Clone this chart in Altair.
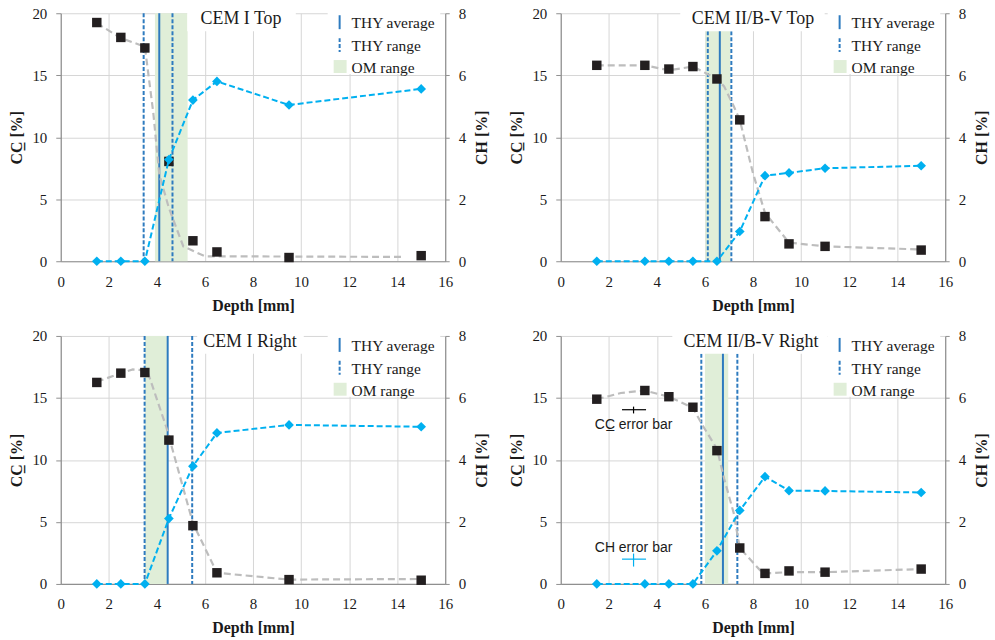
import altair as alt
import pandas as pd

# ---------------- data ----------------
titles = ["CEM I Top", "CEM II/B-V Top", "CEM I Right", "CEM II/B-V Right"]

depth = [
    [1.5, 2.5, 3.5, 4.5, 5.5, 6.5, 9.5, 15],
    [1.5, 3.5, 4.5, 5.5, 6.5, 7.45, 8.5, 9.5, 11, 15],
    [1.5, 2.5, 3.5, 4.5, 5.5, 6.5, 9.5, 15],
    [1.5, 3.5, 4.5, 5.5, 6.5, 7.45, 8.5, 9.5, 11, 15],
]
cc = [
    [19.25, 18.05, 17.2, 8.05, 1.65, 0.75, 0.3, 0.45],
    [15.8, 15.8, 15.5, 15.7, 14.7, 11.4, 3.6, 1.4, 1.2, 0.9],
    [16.25, 17.0, 17.05, 11.6, 4.7, 0.9, 0.35, 0.3],
    [14.9, 15.6, 15.1, 14.25, 10.75, 2.9, 0.85, 1.05, 0.95, 1.2],
]
ch = [
    [0, 0, 0, 3.28, 5.2, 5.8, 5.04, 5.56],
    [0, 0, 0, 0, 0, 0.96, 2.76, 2.85, 3.0, 3.08],
    [0, 0, 0, 2.11, 3.8, 4.87, 5.13, 5.07],
    [0, 0, 0, 0, 1.07, 2.37, 3.46, 3.01, 3.0, 2.95],
]
fit_depth = [
    [1.5, 2.5, 3.5, 3.85, 4.1, 4.5, 5.1, 6.0, 14.2],
    [1.5, 3.5, 4.5, 5.5, 6.5, 6.8, 7.2, 7.45, 8.0, 8.5, 9.5, 11, 15],
    [1.5, 2.5, 3.0, 3.6, 4.4, 5.5, 6.5, 9.5, 15],
    [1.5, 2.5, 3.5, 4.5, 5.5, 5.9, 6.5, 6.8, 7.2, 7.45, 8.3, 8.5, 9.5, 11, 15],
]
fit_cc = [
    [19.2, 18.0, 17.3, 12.0, 7.0, 4.3, 1.2, 0.4, 0.35],
    [15.8, 15.8, 15.4, 15.7, 14.7, 14.1, 12.5, 11.4, 7.1, 3.9, 1.5, 1.2, 0.95],
    [16.3, 17.0, 17.3, 17.2, 12.6, 4.9, 0.9, 0.35, 0.4],
    [14.9, 15.4, 15.6, 15.1, 14.2, 12.8, 10.9, 8.5, 5.7, 2.9, 1.1, 0.85, 0.95, 0.95, 1.2],
]
thy_avg = [4.1, 6.62, 4.45, 6.75]
thy_lo = [3.45, 6.12, 3.49, 5.85]
thy_hi = [4.65, 7.1, 5.47, 7.35]
om_lo = [3.92, 6.02, 3.5, 6.0]
om_hi = [5.28, 7.06, 4.42, 6.97]

legend_labels = ["THY average", "THY range", "OM range"]

# error-bar key (CEM II/B-V Right)
err_x = [2.55, 3.55]
err_xc = 3.03
cc_err_y = 14.05
cc_err_span = [13.75, 14.3]
ch_err_y = 2.0
ch_err_span = [1.4, 2.45]
err_labels = ["CC\u0332 error bar", "CH error bar"]
err_label_y = [12.5, 2.6]

# ---------------- style ----------------
W, H = 386, 249
SERIF = "Liberation Serif"
SANS = "Liberation Sans"
CH_COL = "#00b0f0"
THY_COL = "#2e7bbf"
OM_COL = "#e0eed8"
FIT_COL = "#bdbdbd"
SQ_COL = "#231f20"

title_box = [(127, 236), (120, 265), (137, 244), (112, 268)]
title_cx = [181, 193, 190, 191]

xscale = alt.Scale(domain=[0, 16], nice=False, zero=False)
xaxis = alt.Axis(title="Depth [mm]", values=list(range(0, 17, 2)), grid=True,
                 ticks=False, labelPadding=13, titlePadding=8, labelFlush=False)
ccaxis = alt.Axis(title="CC\u0332 [%]", values=[0, 5, 10, 15, 20], grid=True,
                  orient="left", tickSize=5, labelPadding=9, titlePadding=7,
                  labelFlush=False)
chaxis = alt.Axis(title="CH [%]", values=[0, 2, 4, 6, 8], grid=False,
                  orient="right", tickSize=4, labelPadding=9, titlePadding=8,
                  titleAngle=270, titleBaseline="top", labelFlush=False)
ccscale = alt.Scale(domain=[0, 20], nice=False)
chscale = alt.Scale(domain=[0, 8], nice=False)

one = pd.DataFrame({"a": [0]})


def X(field):
    return alt.X(field, type="quantitative", scale=xscale, axis=xaxis)


def panel(i):
    df = pd.DataFrame({"depth": depth[i], "cc": cc[i], "ch": ch[i]})
    fit = pd.DataFrame({"depth": fit_depth[i], "cc": fit_cc[i]})
    Ycc = alt.Y("cc:Q", scale=ccscale, axis=ccaxis)

    om = alt.Chart(pd.DataFrame({"lo": [om_lo[i]], "hi": [om_hi[i]]})).mark_rect(
        color=OM_COL).encode(x=X("lo"), x2="hi", y=alt.value(0), y2=alt.value(H))
    rng = alt.Chart(pd.DataFrame({"depth": [thy_lo[i], thy_hi[i]]})).mark_rule(
        color=THY_COL, strokeWidth=2, strokeDash=[4, 2]).encode(
        x=X("depth"), y=alt.value(0), y2=alt.value(H))
    avg = alt.Chart(pd.DataFrame({"depth": [thy_avg[i]]})).mark_rule(
        color=THY_COL, strokeWidth=2).encode(
        x=X("depth"), y=alt.value(0), y2=alt.value(H))
    fitl = alt.Chart(fit).mark_line(color=FIT_COL, strokeWidth=2.2,
                                    strokeDash=[7, 4]).encode(x=X("depth"), y=Ycc)
    sq = alt.Chart(df).mark_point(shape="square", filled=True, size=90,
                                  color=SQ_COL, opacity=1).encode(x=X("depth"), y=Ycc)
    cc_parts = [om, rng, avg, fitl, sq]

    if i == 3:
        eh = pd.DataFrame({"x0": [err_x[0], err_x[0]], "x1": [err_x[1], err_x[1]],
                           "cc": [cc_err_y, ch_err_y], "k": ["cc", "ch"]})
        ev = pd.DataFrame({"depth": [err_xc, err_xc], "cc": [cc_err_span[0], ch_err_span[0]],
                           "cc2": [cc_err_span[1], ch_err_span[1]], "k": ["cc", "ch"]})
        col = alt.Color("k:N", scale=alt.Scale(domain=["cc", "ch"], range=["#000000", CH_COL]),
                        legend=None)
        cc_parts.append(alt.Chart(eh).mark_rule(strokeWidth=1.2).encode(
            x=X("x0"), x2="x1", y=Ycc, color=col))
        cc_parts.append(alt.Chart(ev).mark_rule(strokeWidth=1.2).encode(
            x=X("depth"), y=Ycc, y2="cc2", color=col))
        tl = pd.DataFrame({"depth": [err_xc, err_xc], "cc": err_label_y, "t": err_labels})
        cc_parts.append(alt.Chart(tl).mark_text(font=SANS, fontSize=14, color="#1a1a1a",
                                                align="center", baseline="alphabetic").encode(
            x=X("depth"), y=Ycc, text="t:N"))

    cc_layer = alt.layer(*cc_parts)

    Ych = alt.Y("ch:Q", scale=chscale, axis=chaxis)
    chl = alt.Chart(df).mark_line(color=CH_COL, strokeWidth=2, strokeDash=[6, 3]).encode(
        x=X("depth"), y=Ych)
    chp = alt.Chart(df).mark_point(shape="diamond", filled=True, size=95, color=CH_COL,
                                   opacity=1).encode(x=X("depth"), y=Ych)
    ch_layer = alt.layer(chl, chp)

    # annotations: title box, legend box
    ann = []
    ann.append(alt.Chart(one).mark_rect(color="white").encode(
        x=alt.value(title_box[i][0]), x2=alt.value(title_box[i][1]),
        y=alt.value(-1), y2=alt.value(18)))
    ann.append(alt.Chart(one).mark_text(font=SERIF, fontSize=18, color="#1a1a1a",
                                        align="center", baseline="alphabetic").encode(
        x=alt.value(title_cx[i]), y=alt.value(11), text=alt.value(titles[i])))
    ann.append(alt.Chart(one).mark_rect(color="white").encode(
        x=alt.value(268), x2=alt.value(381), y=alt.value(-1), y2=alt.value(61)))
    rows = [9, 32, 54]
    ann.append(alt.Chart(one).mark_rule(color=THY_COL, strokeWidth=2).encode(
        x=alt.value(280), y=alt.value(rows[0] - 7), y2=alt.value(rows[0] + 7)))
    ann.append(alt.Chart(one).mark_rule(color=THY_COL, strokeWidth=2, strokeDash=[4, 2]).encode(
        x=alt.value(280), y=alt.value(rows[1] - 7), y2=alt.value(rows[1] + 7)))
    ann.append(alt.Chart(one).mark_rect(color=OM_COL).encode(
        x=alt.value(274), x2=alt.value(287), y=alt.value(rows[2] - 7), y2=alt.value(rows[2] + 6)))
    for r, lab in zip(rows, legend_labels):
        ann.append(alt.Chart(one).mark_text(font=SERIF, fontSize=15.5, color="#1a1a1a",
                                            align="left", baseline="middle").encode(
            x=alt.value(292), y=alt.value(r + 1), text=alt.value(lab)))
    ann_layer = alt.layer(*ann)

    return alt.layer(cc_layer, ch_layer, ann_layer).resolve_scale(y="independent").properties(
        width=W, height=H)


chart = alt.concat(panel(0), panel(1), panel(2), panel(3), columns=2,
                   spacing={"row": 75, "column": 116}, bounds="flush").properties(
    padding={"left": 9, "top": 5, "right": 5, "bottom": 5},
    background="white",
).configure_view(stroke=None).configure_axis(
    labelFont=SERIF, labelFontSize=15, labelColor="#1a1a1a",
    titleFont=SERIF, titleFontSize=16, titleFontWeight="bold", titleColor="#1a1a1a",
    domainColor="#8f8f8f", tickColor="#8f8f8f", gridColor="#d6d6d6",
    domainWidth=1.2, gridWidth=1,
)

chart.save("out.html", embed_options={"renderer": "svg", "actions": False})
